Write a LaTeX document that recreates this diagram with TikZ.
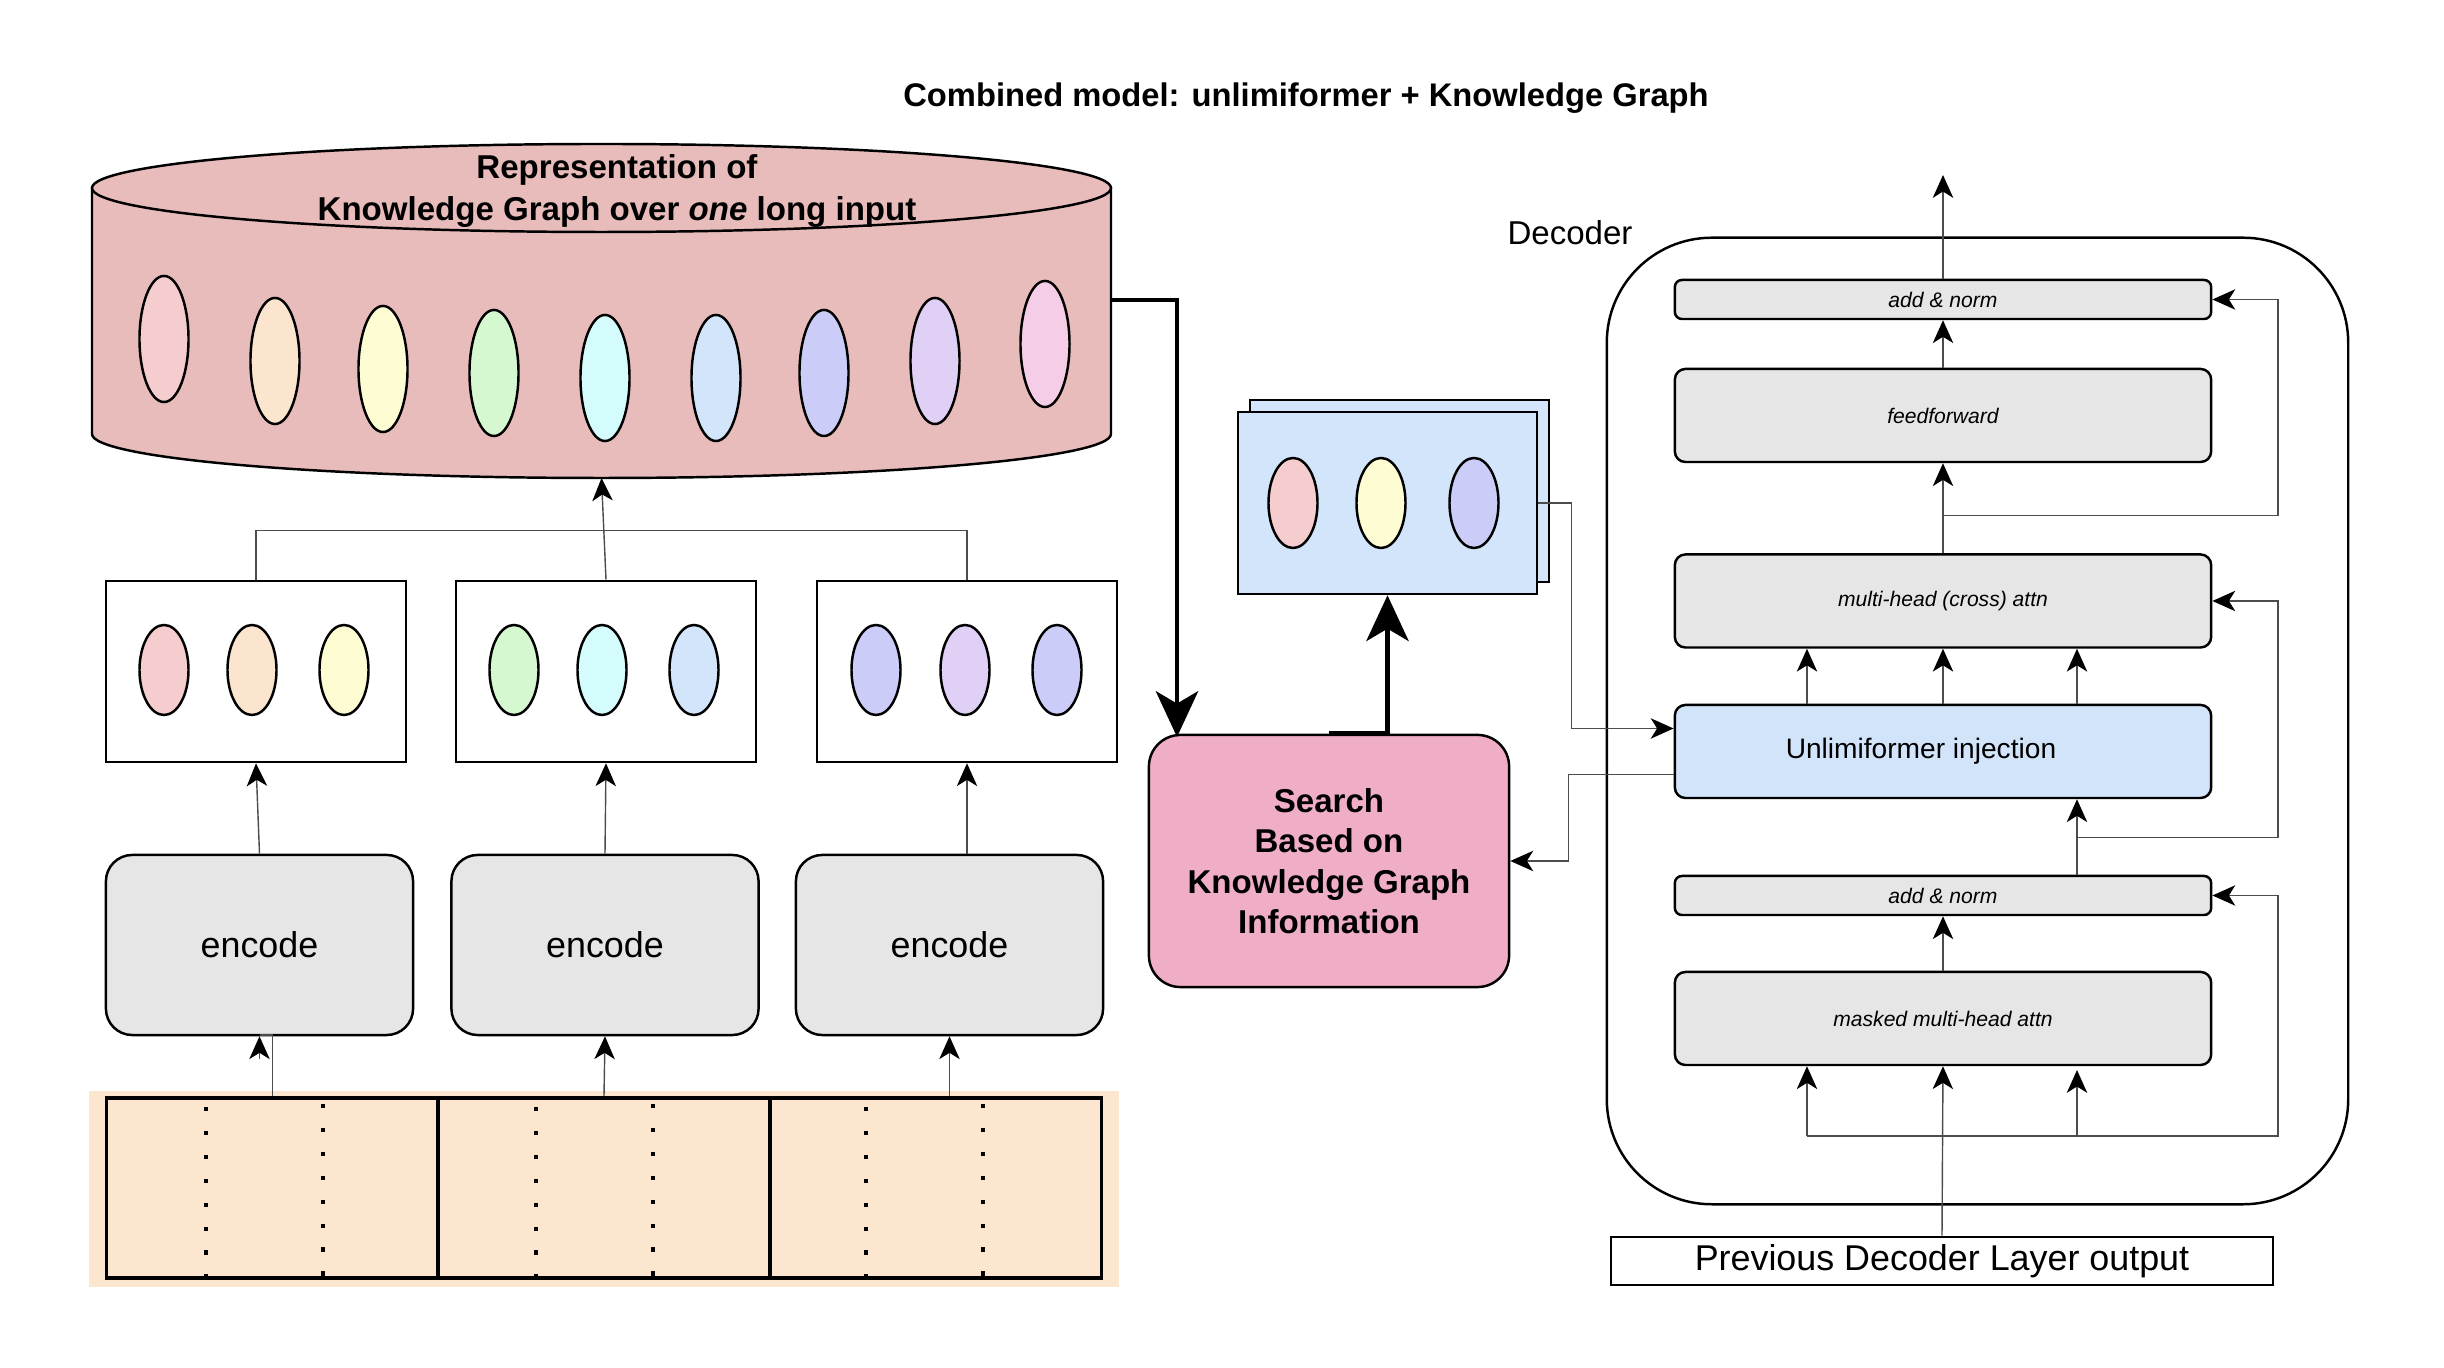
\documentclass[tikz,border=0pt]{standalone}
\usepackage{fontspec}
\setmainfont{Liberation Sans}
\usepackage{xcolor}
\usepackage{tikz}
\usetikzlibrary{shapes.geometric,arrows.meta,calc,positioning}
\definecolor{kgred}{HTML}{E8BCBB}
\definecolor{encgray}{HTML}{E6E6E6}
\definecolor{inpeach}{HTML}{FCE6CF}
\definecolor{injblue}{HTML}{D2E4FA}
\definecolor{retrblue}{HTML}{D3E5FB}
\definecolor{srchpink}{HTML}{F0ADC8}
\definecolor{vpink}{HTML}{F6CDCE}
\definecolor{vpeach}{HTML}{FBE5CF}
\definecolor{vyellow}{HTML}{FEFCD3}
\definecolor{vgreen}{HTML}{D6F8D0}
\definecolor{vcyan}{HTML}{D4FCFC}
\definecolor{vblue}{HTML}{D3E5FA}
\definecolor{vperi}{HTML}{CBCDF8}
\definecolor{vlav}{HTML}{E0D0F6}
\definecolor{vrose}{HTML}{F5CDE6}
\tikzset{
  conn/.style={draw=black!70, line width=0.4pt},
  bigarrow/.style={line width=1.4pt, -{Stealth[length=13pt,width=12pt,inset=3.5pt]}},
  vec/.style={ellipse, draw, line width=0.7pt, fill=#1, minimum width=0.49cm, minimum height=0.90cm, inner sep=0pt},
  bigvec/.style={vec=#1, minimum height=1.26cm},
  featbox/.style={draw, line width=0.7pt, minimum width=3.00cm, minimum height=1.81cm, inner sep=0pt},
  encbox/.style={draw, line width=0.7pt, fill=encgray, rounded corners=7.5pt, minimum width=3.07cm, minimum height=1.80cm, inner sep=0pt, font=\fontsize{10.2}{12}\selectfont},
  inseg/.style={draw, line width=1pt, minimum width=3.315cm, minimum height=1.80cm, inner sep=0pt},
  dotcol/.style={line width=1.2pt, dash pattern=on 1.2pt off 5.6pt},
  declayer/.style={draw, line width=0.7pt, fill=encgray, rounded corners=3pt, minimum width=5.36cm, minimum height=0.93cm, inner sep=0pt, font=\itshape\fontsize{6}{7}\selectfont},
  addnorm/.style={declayer, minimum height=0.39cm, rounded corners=2pt},
}
\begin{document}
\begin{tikzpicture}[x=0.01cm, y=-0.01cm, >={Stealth[length=6.5pt,width=5.8pt,inset=1.8pt,color=black]}]
\useasboundingbox (0,0) rectangle (2444,1368);

\node[font=\bfseries\fontsize{9.3}{11}\selectfont] (title) at (1306,98) {Combined model: unlimiformer + Knowledge Graph};

% knowledge graph store
\draw[fill=kgred, line width=0.7pt] (92,188) -- (92,434) arc[start angle=180, end angle=0, x radius=509.5, y radius=44] -- (1111,188);
\draw[fill=kgred, line width=0.7pt] (601.5,188) ellipse [x radius=509.5, y radius=44];
\node[align=center, font=\bfseries\fontsize{9.4}{12}\selectfont] (kgtxt) at (617,191) {Representation of\\Knowledge Graph over \textit{one} long input};
\coordinate (kgB) at (601.5,478);
\coordinate (kgR) at (1111,300);
\node[bigvec=vpink] (k1) at (164,339) {};
\node[bigvec=vpeach] (k2) at (275,361) {};
\node[bigvec=vyellow] (k3) at (383,369) {};
\node[bigvec=vgreen] (k4) at (494,373) {};
\node[bigvec=vcyan] (k5) at (605,378) {};
\node[bigvec=vblue] (k6) at (716,378) {};
\node[bigvec=vperi] (k7) at (824,373) {};
\node[bigvec=vlav] (k8) at (935,361) {};
\node[bigvec=vrose] (k9) at (1045,344) {};

% long input
\fill[inpeach] (89,1091) rectangle (1119,1287);
\node[inseg] (seg1) at (272.5,1188) {};
\node[inseg] (seg2) at (604,1188) {};
\node[inseg] (seg3) at (935.5,1188) {};
\draw[dotcol] (206,1107) -- (206,1280);
\draw[dotcol] (323,1104) -- (323,1280);
\draw[dotcol] (536,1107) -- (536,1280);
\draw[dotcol] (653,1104) -- (653,1280);
\draw[dotcol] (866,1107) -- (866,1280);
\draw[dotcol] (983,1104) -- (983,1280);

% encoders
\node[encbox] (enc1) at (259.5,945) {encode};
\node[encbox] (enc2) at (605,945) {encode};
\node[encbox] (enc3) at (949.5,945) {encode};

% encoded chunks
\node[featbox] (box1) at (256,671.5) {};
\node[featbox] (box2) at (606,671.5) {};
\node[featbox] (box3) at (967,671.5) {};
\node[vec=vpink] (b1a) at (164,670) {};
\node[vec=vpeach] (b1b) at (252,670) {};
\node[vec=vyellow] (b1c) at (344,670) {};
\node[vec=vgreen] (b2a) at (514,670) {};
\node[vec=vcyan] (b2b) at (602,670) {};
\node[vec=vblue] (b2c) at (694,670) {};
\node[vec=vperi] (b3a) at (876,670) {};
\node[vec=vlav] (b3b) at (965,670) {};
\node[vec=vperi] (b3c) at (1057,670) {};

\draw[conn] (seg1.north) |- ($(seg1.north)+(-13,-61)$) coordinate (jog1);
\draw[conn,->] ($(jog1)+(0,24)$) -- (jog1 |- enc1.south);
\draw[conn,->] (seg2.north) -- (enc2.south);
\draw[conn,->] (seg3.north -| enc3.south) -- (enc3.south);
\draw[conn,->] (enc1.north) -- (box1.south);
\draw[conn,->] (enc2.north) -- (box2.south);
\draw[conn,->] (box3.south |- enc3.north) -- (box3.south);
\draw[conn] (box1.north) -- ++(0,-49) -| (box3.north);
\draw[conn,->] (box2.north) -- (kgB);

% search and retrieved
\node[draw, line width=0.7pt, fill=srchpink, rounded corners=9pt, minimum width=3.60cm, minimum height=2.52cm, align=center, font=\bfseries\fontsize{9.4}{11.5}\selectfont] (search) at (1329,861) {Search\\Based on\\Knowledge Graph\\Information};
\node[draw, line width=0.7pt, fill=retrblue, minimum width=2.99cm, minimum height=1.82cm] (retrB) at (1399.5,491) {};
\node[draw, line width=0.7pt, fill=retrblue, minimum width=2.99cm, minimum height=1.82cm] (retr) at (1387.5,503) {};
\node[vec=vpink] (r1) at (1293,503) {};
\node[vec=vyellow] (r2) at (1381,503) {};
\node[vec=vperi] (r3) at (1474,503) {};
\coordinate (srchIn) at (1177,737);
\draw[bigarrow] (kgR) -| (srchIn);
\draw[bigarrow] (search.north) -| (retr.south);

% decoder
\node[draw, line width=0.7pt, rounded corners=1.05cm, minimum width=7.41cm, minimum height=9.66cm] (dec) at (1977.5,721) {};
\node[font=\fontsize{9.4}{11}\selectfont] (declbl) at (1570,233) {Decoder};
\node[addnorm] (an2) at (1943,299.5) {add \& norm};
\node[declayer] (ff) at (1943,415.5) {feedforward};
\node[declayer] (cross) at (1943,601) {multi-head (cross) attn};
\node[declayer, fill=injblue, font=\fontsize{8}{10}\selectfont] (inj) at (1943,751.5) {Unlimiformer injection\hspace*{0.44cm}};
\node[addnorm] (an1) at (1943,895.5) {add \& norm};
\node[declayer] (masked) at (1943,1018.5) {masked multi-head attn};
\node[draw, line width=0.7pt, minimum width=6.62cm, minimum height=0.48cm, inner sep=0pt, font=\fontsize{10.2}{12}\selectfont] (prev) at (1942,1261) {Previous Decoder Layer output};

\draw[conn,->] (retr.east) -- ++(33,0) |- ($(inj.west)+(0,-23)$);
\draw[conn,->] ($(inj.west)+(0,23)$) -- ++(-105,0) |- (search.east);

\coordinate (out) at (1943,175);
\coordinate (colL) at (1807,0);
\coordinate (colR) at (2077,0);
\coordinate (side) at (2278,0);
\coordinate (bus) at (1807,1136);
\draw[conn,->] (prev.north) -- (masked.south);
\draw[conn,->] (bus) -- (bus |- masked.south);
\draw[conn,->] (bus) -| (side |- an1.east) -- (an1.east);
\draw[conn,->] (colR |- bus) -- ++(0,-66);
\draw[conn,->] (masked.north) -- (an1.south);
\draw[conn,->] (colR |- an1.north) -- (colR |- inj.south);
\draw[conn,->] ($(colR |- inj.south)+(0,38)$) -| (side |- cross.east) -- (cross.east);
\draw[conn,->] (colL |- inj.north) -- (colL |- cross.south);
\draw[conn,->] (inj.north) -- (cross.south);
\draw[conn,->] (colR |- inj.north) -- (colR |- cross.south);
\draw[conn,->] (cross.north) -- (ff.south);
\draw[conn,->] ($(cross.north)+(0,-38)$) -| (side |- an2.east) -- (an2.east);
\draw[conn,->] (ff.north) -- (an2.south);
\draw[conn,->] (an2.north) -- (out);
\end{tikzpicture}
\end{document}
